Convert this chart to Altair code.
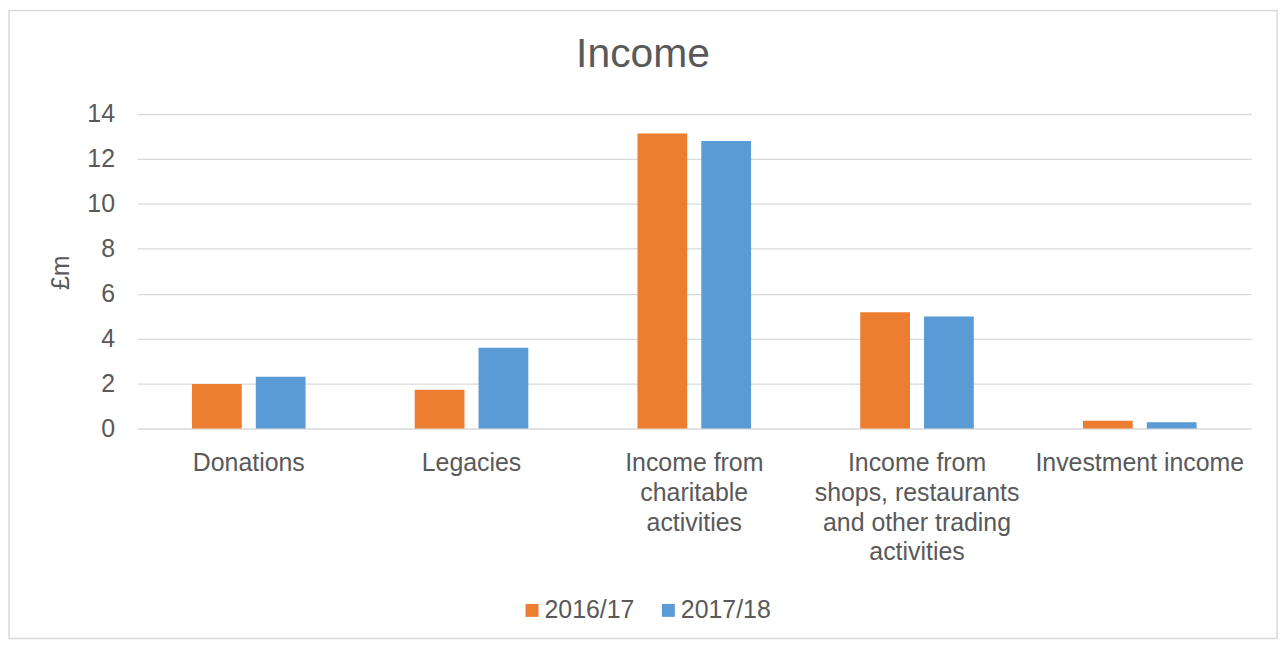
import altair as alt
import pandas as pd

categories = [
    "Donations",
    "Legacies",
    "Income from charitable activities",
    "Income from shops, restaurants and other trading activities",
    "Investment income",
]
label_lines = [
    ["Donations"],
    ["Legacies"],
    ["Income from", "charitable", "activities"],
    ["Income from", "shops, restaurants", "and other trading", "activities"],
    ["Investment income"],
]
years = ["2016/17", "2017/18"]
values_2016 = [1.98, 1.73, 13.13, 5.17, 0.34]
values_2017 = [2.30, 3.59, 12.80, 4.99, 0.28]
y_ticks = [0, 2, 4, 6, 8, 10, 12, 14]
colors = ["#ED7D31", "#5B9BD5"]

rows = []
for c, v1, v2 in zip(categories, values_2016, values_2017):
    rows.append({"category": c, "year": years[0], "value": v1})
    rows.append({"category": c, "year": years[1], "value": v2})
df = pd.DataFrame(rows)

# multi-line labels expression
expr = "''"
for c, lines in reversed(list(zip(categories, label_lines))):
    arr = "[" + ",".join("'" + l + "'" for l in lines) + "]"
    expr = f"datum.value == '{c}' ? {arr} : ({expr})"

FONT = "Liberation Sans"
GREY = "#595959"

bars = alt.Chart(df).mark_bar().encode(
    x=alt.X(
        "category:N",
        sort=categories,
        scale=alt.Scale(paddingInner=0.49, paddingOuter=0.245),
        axis=alt.Axis(
            title=None,
            labelAngle=0,
            domain=False,
            ticks=False,
            labelPadding=22,
            labelFontSize=25,
            labelLineHeight=30,
            labelBaseline="top",
            labelLimit=500,
            labelColor=GREY,
            labelFont=FONT,
            labelExpr=expr,
        ),
    ),
    xOffset=alt.XOffset("year:N", sort=years, scale=alt.Scale(paddingInner=0.22, paddingOuter=0)),
    y=alt.Y(
        "value:Q",
        scale=alt.Scale(domain=[0, 14], nice=False),
        axis=alt.Axis(
            values=y_ticks,
            title="£m",
            titleX=-77,
            titleY=159,
            titleAlign="center",
            titleBaseline="middle",
            titleFontSize=25,
            titleFontWeight="normal",
            titleColor=GREY,
            titleFont=FONT,
            domain=False,
            ticks=False,
            labelPadding=23,
            labelFontSize=25,
            labelColor=GREY,
            labelFont=FONT,
            gridColor="#D9D9D9",
            gridWidth=1.3,
        ),
    ),
    color=alt.Color(
        "year:N",
        sort=years,
        scale=alt.Scale(domain=years, range=colors),
        legend=alt.Legend(
            title=None,
            orient="none",
            direction="horizontal",
            legendX=384,
            legendY=486,
            symbolType="square",
            symbolSize=169,
            symbolStrokeWidth=0,
            labelFontSize=25,
            labelColor=GREY,
            labelFont=FONT,
            labelOffset=0,
            columnPadding=21,
        ),
    ),
)

title = alt.Chart(alt.Data(values=[{"t": "Income"}])).mark_text(
    fontSize=41, font=FONT, color=GREY, align="center", baseline="alphabetic"
).encode(text="t:N", x=alt.value(508), y=alt.value(-47))

frame = alt.Chart(alt.Data(values=[{"f": 1}])).mark_rect(
    fillOpacity=0, stroke="#D9D9D9", strokeWidth=1.5
).encode(x=alt.value(-129), x2=alt.value(1145), y=alt.value(-104), y2=alt.value(527))

chart = alt.layer(frame, bars, title).properties(
    width=1119,
    height=316,
    autosize=alt.AutoSizeParams(type="none"),
    padding={"left": 130, "top": 105, "right": 28, "bottom": 213},
    background="white",
).configure_view(strokeWidth=0)

chart.save("out.html", embed_options={"renderer": "svg", "actions": False})
